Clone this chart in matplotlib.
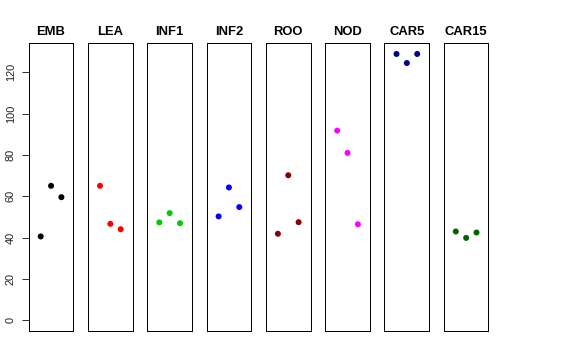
"""Strip of dot panels, one per tissue, three replicates each."""

import numpy as np
import matplotlib
matplotlib.use("Agg")
import matplotlib.pyplot as plt

plt.rcParams["font.family"] = ["Liberation Sans", "DejaVu Sans"]

# tissues and their replicate values
tissues = ["EMB", "LEA", "INF1", "INF2", "ROO", "NOD", "CAR5", "CAR15"]
values = [
    [40.6, 65.1, 59.6],
    [65.1, 46.7, 44.1],
    [47.4, 51.9, 47.0],
    [50.3, 64.3, 54.8],
    [41.9, 70.2, 47.5],
    [91.8, 81.0, 46.5],
    [128.9, 124.5, 128.9],
    [43.0, 39.9, 42.5],
]
colors = ["black", "red", "#00CD00", "blue", "#8B0000", "magenta", "#00008B", "#006400"]
yticks = [0, 20, 40, 60, 80, 100, 120]

W, H = 576, 360
fig = plt.figure(figsize=(W / 72, H / 72), dpi=72)

left0, pitch, pw = 28.7, 59.3, 44.7
top, bottom = 43.3, 331.0
ymax = 128.9
pad = 0.04 * ymax

for i, (name, vals, col) in enumerate(zip(tissues, values, colors)):
    x0 = left0 + i * pitch
    ax = fig.add_axes([x0 / W, 1 - bottom / H, pw / W, (bottom - top) / H])
    ax.scatter(np.arange(1, len(vals) + 1), vals, s=36, color=col,
               edgecolors="none", zorder=3)
    ax.set_xlim(-0.16, 4.16)
    ax.set_ylim(-pad, ymax + pad)
    ax.set_xticks([])
    for sp in ax.spines.values():
        sp.set_linewidth(1.0)
        sp.set_color("black")
    ax.set_title(name, fontsize=13, fontweight="bold", pad=8)
    if i == 0:
        ax.set_yticks(yticks)
        ax.set_yticklabels([str(t) for t in yticks], rotation=90, va="center",
                           fontsize=11, color="#222222")
        ax.tick_params(axis="y", length=7, width=0.8, pad=6)
    else:
        ax.set_yticks([])

fig.savefig("out.png", dpi=72)
